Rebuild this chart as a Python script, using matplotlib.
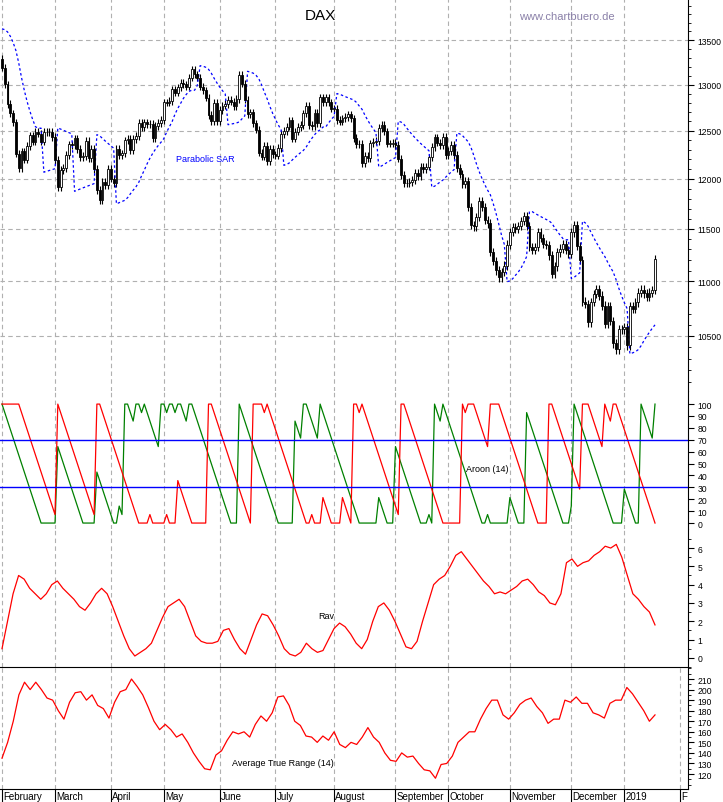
import numpy as np
import matplotlib.pyplot as plt
from matplotlib.ticker import FixedLocator, NullFormatter

# --- DAX daily closes, grouped by month (Feb 2018 - Jan 2019) ---
months = ["February", "March", "April", "May", "June", "July", "August",
          "September", "October", "November", "December", "2019"]
closes_by_month = [
    [13189, 13004, 12785, 12687, 12590, 12260, 12107, 12282, 12197, 12339, 12451, 12385, 12487, 12470, 12385, 12490, 12485, 12490, 12435],
    [12190, 11913, 12090, 12113, 12245, 12355, 12346, 12418, 12307, 12222, 12237, 12390, 12217, 12307, 12100, 11887, 11787, 11970, 11940, 12096],
    [12002, 11957, 12305, 12241, 12261, 12397, 12415, 12293, 12415, 12442, 12585, 12540, 12590, 12567, 12572, 12422, 12550, 12580, 12612],
    [12806, 12802, 12819, 12948, 12912, 12970, 13022, 13001, 12977, 13077, 13170, 13114, 13077, 12976, 12938, 12855, 12666, 12604, 12800, 12604],
    [12724, 12770, 12787, 12830, 12811, 12766, 12842, 13107, 13010, 12834, 12677, 12695, 12579, 12511, 12270, 12228, 12338, 12178, 12306, 12250],
    [12238, 12317, 12464, 12496, 12543, 12609, 12417, 12491, 12540, 12561, 12686, 12765, 12561, 12548, 12689, 12579, 12860, 12809, 12860, 12805, 12737],
    [12737, 12615, 12598, 12633, 12648, 12676, 12633, 12424, 12358, 12358, 12162, 12237, 12210, 12365, 12384, 12394, 12527, 12561, 12494, 12364, 12364, 12367],
    [12346, 12208, 12040, 11955, 11960, 11970, 11986, 12055, 12032, 12124, 12096, 12125, 12219, 12327, 12430, 12374, 12352, 12435, 12246],
    [12287, 12350, 12244, 12111, 12049, 11947, 11977, 11712, 11539, 11523, 11614, 11776, 11715, 11589, 11553, 11274, 11191, 11101, 11035, 11087, 11147, 11347],
    [11468, 11518, 11495, 11527, 11579, 11629, 11529, 11325, 11293, 11325, 11472, 11412, 11353, 11341, 11244, 11066, 11138, 11272, 11309, 11354, 11298, 11257],
    [11465, 11535, 11335, 11200, 10810, 10788, 10622, 10806, 10880, 10924, 10865, 10772, 10611, 10766, 10634, 10433, 10381, 10559, 10558],
    [10580, 10416, 10768, 10747, 10803, 10893, 10921, 10887, 10855, 10892, 10919, 11205],
]
wick = 40  # points above/below bodies

# --- ATR(14) and Rav ---
atr = [135, 150, 170, 195, 207, 200, 207, 200, 192, 190, 180, 172,
       188, 197, 198, 190, 195, 185, 182, 173, 188, 198,
       200, 210, 203, 195, 183, 170, 162, 167, 162, 155,
       158, 150, 140, 132, 125, 124, 138, 142, 152, 160,
       158, 160, 155, 167, 175, 170, 178, 193, 194,
       185, 170, 166, 156, 155, 150, 156, 152, 160, 148, 145,
       150, 148, 155, 164, 155, 150, 140, 133, 132, 140, 136,
       137, 130, 124, 123, 116, 129,
       130, 137, 150, 155, 160, 160, 172, 182, 190, 190,
       176, 172, 178, 186, 190, 192, 184, 178, 168, 172,
       172, 190, 188, 193, 187, 187, 178, 176, 173, 187, 190,
       190, 202, 196, 188, 180, 170, 176]
rav = [0.5, 2, 3.5, 4.5, 4.3, 3.8, 3.5, 3.2,
       3.5, 4.0, 4.2, 3.8, 3.5, 3.2, 2.8, 2.6, 3.0,
       3.5, 3.8, 3.5, 2.8, 2.0, 1.2, 0.5, 0.1, 0.3, 0.5,
       0.8, 1.5, 2.2, 2.8, 3.0, 3.2, 2.8, 2.0, 1.2, 0.9,
       0.8, 0.8, 0.9, 1.5, 1.6, 1.0, 0.5, 0.2, 1.0,
       1.8, 2.4, 2.3, 1.8, 1.2, 0.5, 0.2, 0.1, 0.3, 0.8,
       0.5, 0.3, 0.4, 1.0, 1.6, 1.9, 1.7, 1.3, 0.8, 0.5,
       1.0, 2.0, 2.8, 3.0, 2.6, 2.0, 1.3, 0.6, 0.5,
       0.9, 2.0, 3.0, 4.0, 4.3, 4.5, 5.0, 5.6, 5.8, 5.4,
       5.0, 4.6, 4.2, 3.9, 3.5, 3.6, 3.5, 3.7, 3.9, 4.2, 4.3,
       4.0, 3.6, 3.4, 3.0, 2.9, 3.5, 5.2, 5.4, 5.0, 5.2, 5.3, 5.6, 5.8,
       6.1, 6.0, 6.2, 5.5, 4.5, 3.5, 3.2, 2.8, 2.5, 1.8]

close = np.array([c for m in closes_by_month for c in m], dtype=float)
n = len(close)
opn = np.concatenate([[13290.0], close[:-1]])
high = np.maximum(opn, close) + wick
low = np.minimum(opn, close) - wick
days = np.arange(n)
month_start = np.cumsum([0] + [len(m) for m in closes_by_month])[:-1]

# --- Parabolic SAR ---
def parabolic_sar(high, low, step=0.02, amax=0.2):
    sar = np.zeros(len(high))
    up = False
    ep = low[0]
    af = step
    sar[0] = high[0] + 300
    for i in range(1, len(high)):
        s = sar[i-1] + af * (ep - sar[i-1])
        if up:
            s = min(s, low[i-1], low[max(i-2, 0)])
            if low[i] < s:
                up, s, ep, af = False, ep, low[i], step
            elif high[i] > ep:
                ep, af = high[i], min(af + step, amax)
        else:
            s = max(s, high[i-1], high[max(i-2, 0)])
            if high[i] > s:
                up, s, ep, af = True, ep, high[i], step
            elif low[i] < ep:
                ep, af = low[i], min(af + step, amax)
        sar[i] = s
    return sar

# --- Aroon(14) ---
def aroon(high, low, p=14):
    aup = np.full(len(high), np.nan)
    adn = np.full(len(high), np.nan)
    for i in range(len(high)):
        lo = max(0, i - p)
        h = high[lo:i+1]
        l = low[lo:i+1]
        aup[i] = 100 * (p - (len(h) - 1 - np.argmax(h))) / p
        adn[i] = 100 * (p - (len(l) - 1 - np.argmin(l))) / p
    return aup, adn

sar = parabolic_sar(high, low)
aup, adn = aroon(high, low)

# --- figure ---
W, H = 723, 803
fig = plt.figure(figsize=(W/100, H/100), dpi=100)
plt.rcParams['font.family'] = ['Liberation Sans', 'DejaVu Sans']
right = 688 / W
def panel(top_px, bot_px):
    return fig.add_axes([0, 1 - bot_px/H, right, (bot_px - top_px)/H])

ax1 = panel(0, 392)
ax2 = panel(392, 530)
ax3 = panel(530, 668)
ax4 = panel(668, 790)

scale = (655 - 2) / (n - 1)
xlim = (-2/scale, (688 - 2)/scale)

for ax in (ax1, ax2, ax3, ax4):
    ax.set_xlim(*xlim)
    ax.yaxis.tick_right()
    ax.yaxis.set_label_position("right")
    for s in ("left", "top"):
        ax.spines[s].set_visible(False)
    ax.tick_params(axis="y", labelsize=6.2, length=4, direction="out", pad=3)
    ax.tick_params(axis="y", which="minor", length=2)
    ax.set_xticks(month_start)
    ax.tick_params(axis="x", length=0)
    ax.set_xticklabels([])
    ax.grid(axis="x", color="#b0b0b0", linestyle=(0, (4, 3)), linewidth=0.8)
    ax.set_axisbelow(True)

# price panel
ax1.set_yscale("log")
ax1.set_ylim(10020, 13980)
pt = [10500, 11000, 11500, 12000, 12500, 13000, 13500]
ax1.yaxis.set_major_locator(FixedLocator(pt))
ax1.yaxis.set_minor_locator(FixedLocator(np.arange(10100, 14000, 100)))
ax1.yaxis.set_major_formatter(plt.FuncFormatter(lambda v, p: f"{int(v)}"))
ax1.yaxis.set_minor_formatter(NullFormatter())
ax1.grid(axis="y", which="major", color="#b0b0b0", linestyle=(0, (4, 3)), linewidth=0.8)
ax1.spines["bottom"].set_visible(False)
bw = 0.65
for i in range(n):
    ax1.vlines(days[i], low[i], high[i], color="black", linewidth=0.8)
    b0, b1 = sorted([opn[i], close[i]])
    fc = "white" if close[i] >= opn[i] else "black"
    ax1.add_patch(plt.Rectangle((days[i] - bw/2, b0), bw, max(b1 - b0, 3),
                                facecolor=fc, edgecolor="black", linewidth=0.6, zorder=3))
ax1.plot(days, sar, color="blue", linestyle=(0, (2, 2)), linewidth=0.9)
ax1.text(320/W/right, 1 - 16/392, "DAX", transform=ax1.transAxes, ha="center", va="center", fontsize=11)
ax1.text(567/W/right, 1 - 17/392, "www.chartbuero.de", transform=ax1.transAxes, ha="center",
         va="center", fontsize=8, color="#8a80a8")
ax1.text(205/W/right, 1 - 160/392, "Parabolic SAR", transform=ax1.transAxes, ha="center",
         va="center", fontsize=6.5, color="blue")

# aroon panel
ax2.set_ylim(-5, 111)
ax2.set_yticks(range(0, 101, 10))
ax2.plot(days, aup, color="green", linewidth=0.9)
ax2.plot(days, adn, color="red", linewidth=0.9)
ax2.axhline(30, color="blue", linewidth=1)
ax2.axhline(70, color="blue", linewidth=1)
ax2.spines["bottom"].set_visible(False)
ax2.text(487/W/right, (530 - 470)/138, "Aroon (14)", transform=ax2.transAxes, ha="center",
         va="center", fontsize=6.5)

# rav panel
ax3.set_ylim(-0.5, 7.04)
ax3.set_yticks(range(0, 7))
ax3.set_yticks(np.arange(-0.5, 7, 0.5), minor=True)
ax3.plot(np.linspace(0, n - 1, len(rav)), rav, color="red", linewidth=0.9)
ax3.spines["bottom"].set_visible(False)
ax3.text(326/W/right, (668 - 617)/138, "Rav", transform=ax3.transAxes, ha="center",
         va="center", fontsize=6.5)

# ATR panel
ax4.set_ylim(105.8, 221.4)
ax4.set_yticks(range(120, 211, 10))
ax4.set_yticks(range(110, 221, 5), minor=True)
ax4.plot(np.linspace(0, n - 1, len(atr)), atr, color="red", linewidth=0.9)
ax4.spines["top"].set_visible(True)
ax4.text(283/W/right, (790 - 764)/122, "Average True Range (14)", transform=ax4.transAxes,
         ha="center", va="center", fontsize=6.5)

xt = list(month_start) + [n + 8]
labs = months + ["F"]
ax4.set_xticks(xt)
ax4.set_xticklabels([])
ax4.tick_params(axis="x", length=12, direction="out", width=0.8)
for x, lab in zip(xt, labs):
    ax4.text(x + 0.5, -0.02, lab, transform=ax4.get_xaxis_transform(), ha="left", va="top", fontsize=7)

fig.savefig("out.png", dpi=100)
